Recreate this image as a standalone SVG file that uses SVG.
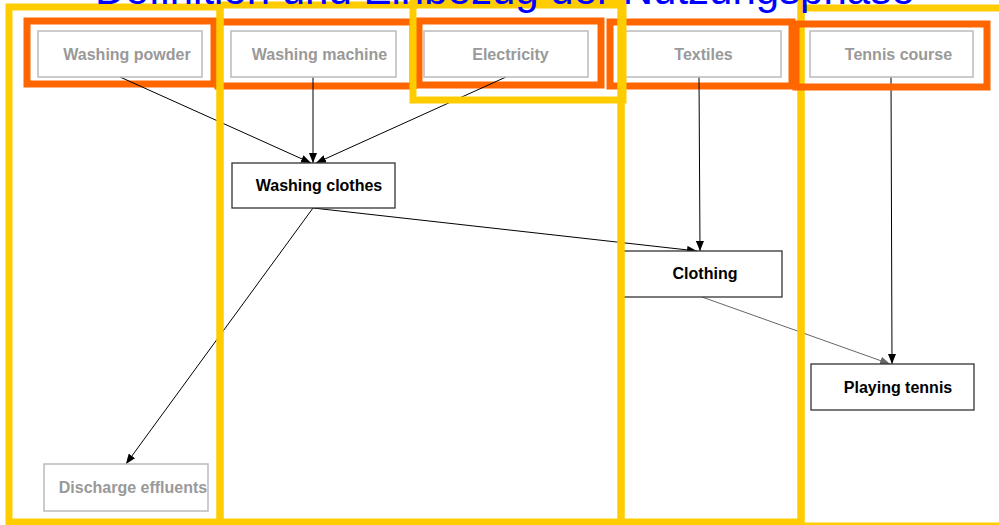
<svg xmlns="http://www.w3.org/2000/svg" width="999" height="525" viewBox="0 0 999 525">
<defs>
<style>
.yf{fill:none;stroke:#FFCC00;stroke-width:7}
.of{fill:none;stroke:#FF6600;stroke-width:7}
.gbox{fill:#fff;stroke:#BBBBBB;stroke-width:1.5}
.bbox{fill:#fff;stroke:#333;stroke-width:1.3}
.gt{font-family:"Liberation Sans",Arial,sans-serif;font-weight:bold;font-size:16px;fill:#999;text-anchor:middle}
.bt{font-family:"Liberation Sans",Arial,sans-serif;font-weight:bold;font-size:16px;fill:#000;text-anchor:middle}
.c{stroke:#000;stroke-width:1;fill:none;marker-end:url(#ah)}
.cg{stroke:#666;stroke-width:1;fill:none;marker-end:url(#ahg)}
.title{font-family:"Liberation Sans",Arial,sans-serif;font-size:42px;fill:#0000FF}
</style>
<marker id="ah" markerUnits="userSpaceOnUse" markerWidth="11" markerHeight="8" refX="10" refY="4" orient="auto"><path d="M0,0 L10,4 L0,8 z" fill="#000"/></marker>
<marker id="ahg" markerUnits="userSpaceOnUse" markerWidth="11" markerHeight="8" refX="10" refY="4" orient="auto"><path d="M0,0 L10,4 L0,8 z" fill="#666"/></marker>
</defs>
<rect width="999" height="525" fill="#fff"/>
<g id="orange-frames">
<rect class="of" x="27" y="21" width="187" height="63"/>
<rect class="of" x="218" y="22" width="195" height="64"/>
<rect class="of" x="419" y="21" width="182" height="64"/>
<rect class="of" x="610" y="22" width="182" height="64"/>
</g>
<g id="connectors">
<line class="c" x1="120" y1="77" x2="311" y2="163"/>
<line class="c" x1="313" y1="77" x2="313" y2="163"/>
<line class="c" x1="506" y1="77" x2="316" y2="163"/>
<line class="c" x1="699" y1="77" x2="700" y2="251"/>
<line class="c" x1="313" y1="208" x2="697" y2="251"/>
<line class="c" x1="313" y1="208" x2="126" y2="464"/>
<line class="cg" x1="702" y1="297" x2="890" y2="364"/>
<line class="c" x1="891" y1="77" x2="892" y2="364"/>
</g>
<g id="washing-powder"><rect class="gbox" x="38" y="31" width="164" height="46"/><text class="gt" x="127" y="60">Washing powder</text></g>
<g id="washing-machine"><rect class="gbox" x="231" y="31" width="165" height="46"/><text class="gt" x="319.5" y="60">Washing machine</text></g>
<g id="electricity"><rect class="gbox" x="424" y="31" width="164" height="46"/><text class="gt" x="510.5" y="60">Electricity</text></g>
<g id="textiles"><rect class="gbox" x="625" y="31" width="156" height="46"/><text class="gt" x="703.5" y="60">Textiles</text></g>
<g id="tennis-course"><rect class="gbox" x="810" y="31" width="163" height="46"/><text class="gt" x="898.5" y="60">Tennis course</text></g>
<g id="washing-clothes"><rect class="bbox" x="232" y="163" width="163" height="45"/><text class="bt" x="319" y="191">Washing clothes</text></g>
<g id="clothing"><rect class="bbox" x="623" y="251" width="159" height="46"/><text class="bt" x="705" y="279">Clothing</text></g>
<g id="playing-tennis"><rect class="bbox" x="811" y="364" width="163" height="46"/><text class="bt" x="898" y="393">Playing tennis</text></g>
<g id="discharge-effluents"><rect class="gbox" x="44" y="464" width="164" height="47"/><text class="gt" x="133" y="493">Discharge effluents</text></g>
<g id="yellow-frames">
<rect class="yf" x="9" y="7" width="211" height="515"/>
<rect class="yf" x="220" y="5" width="401" height="517"/>
<rect class="yf" x="413" y="3" width="210" height="97"/>
<rect class="yf" x="621" y="-10" width="180" height="532"/>
<rect class="yf" x="801" y="8" width="210" height="518"/>
</g>
<g id="orange-frame-tennis">
<rect class="of" x="796" y="24" width="191" height="63"/>
</g>
<text class="title" x="95" y="4">Definition und Einbezug der Nutzungsphase</text>
</svg>
